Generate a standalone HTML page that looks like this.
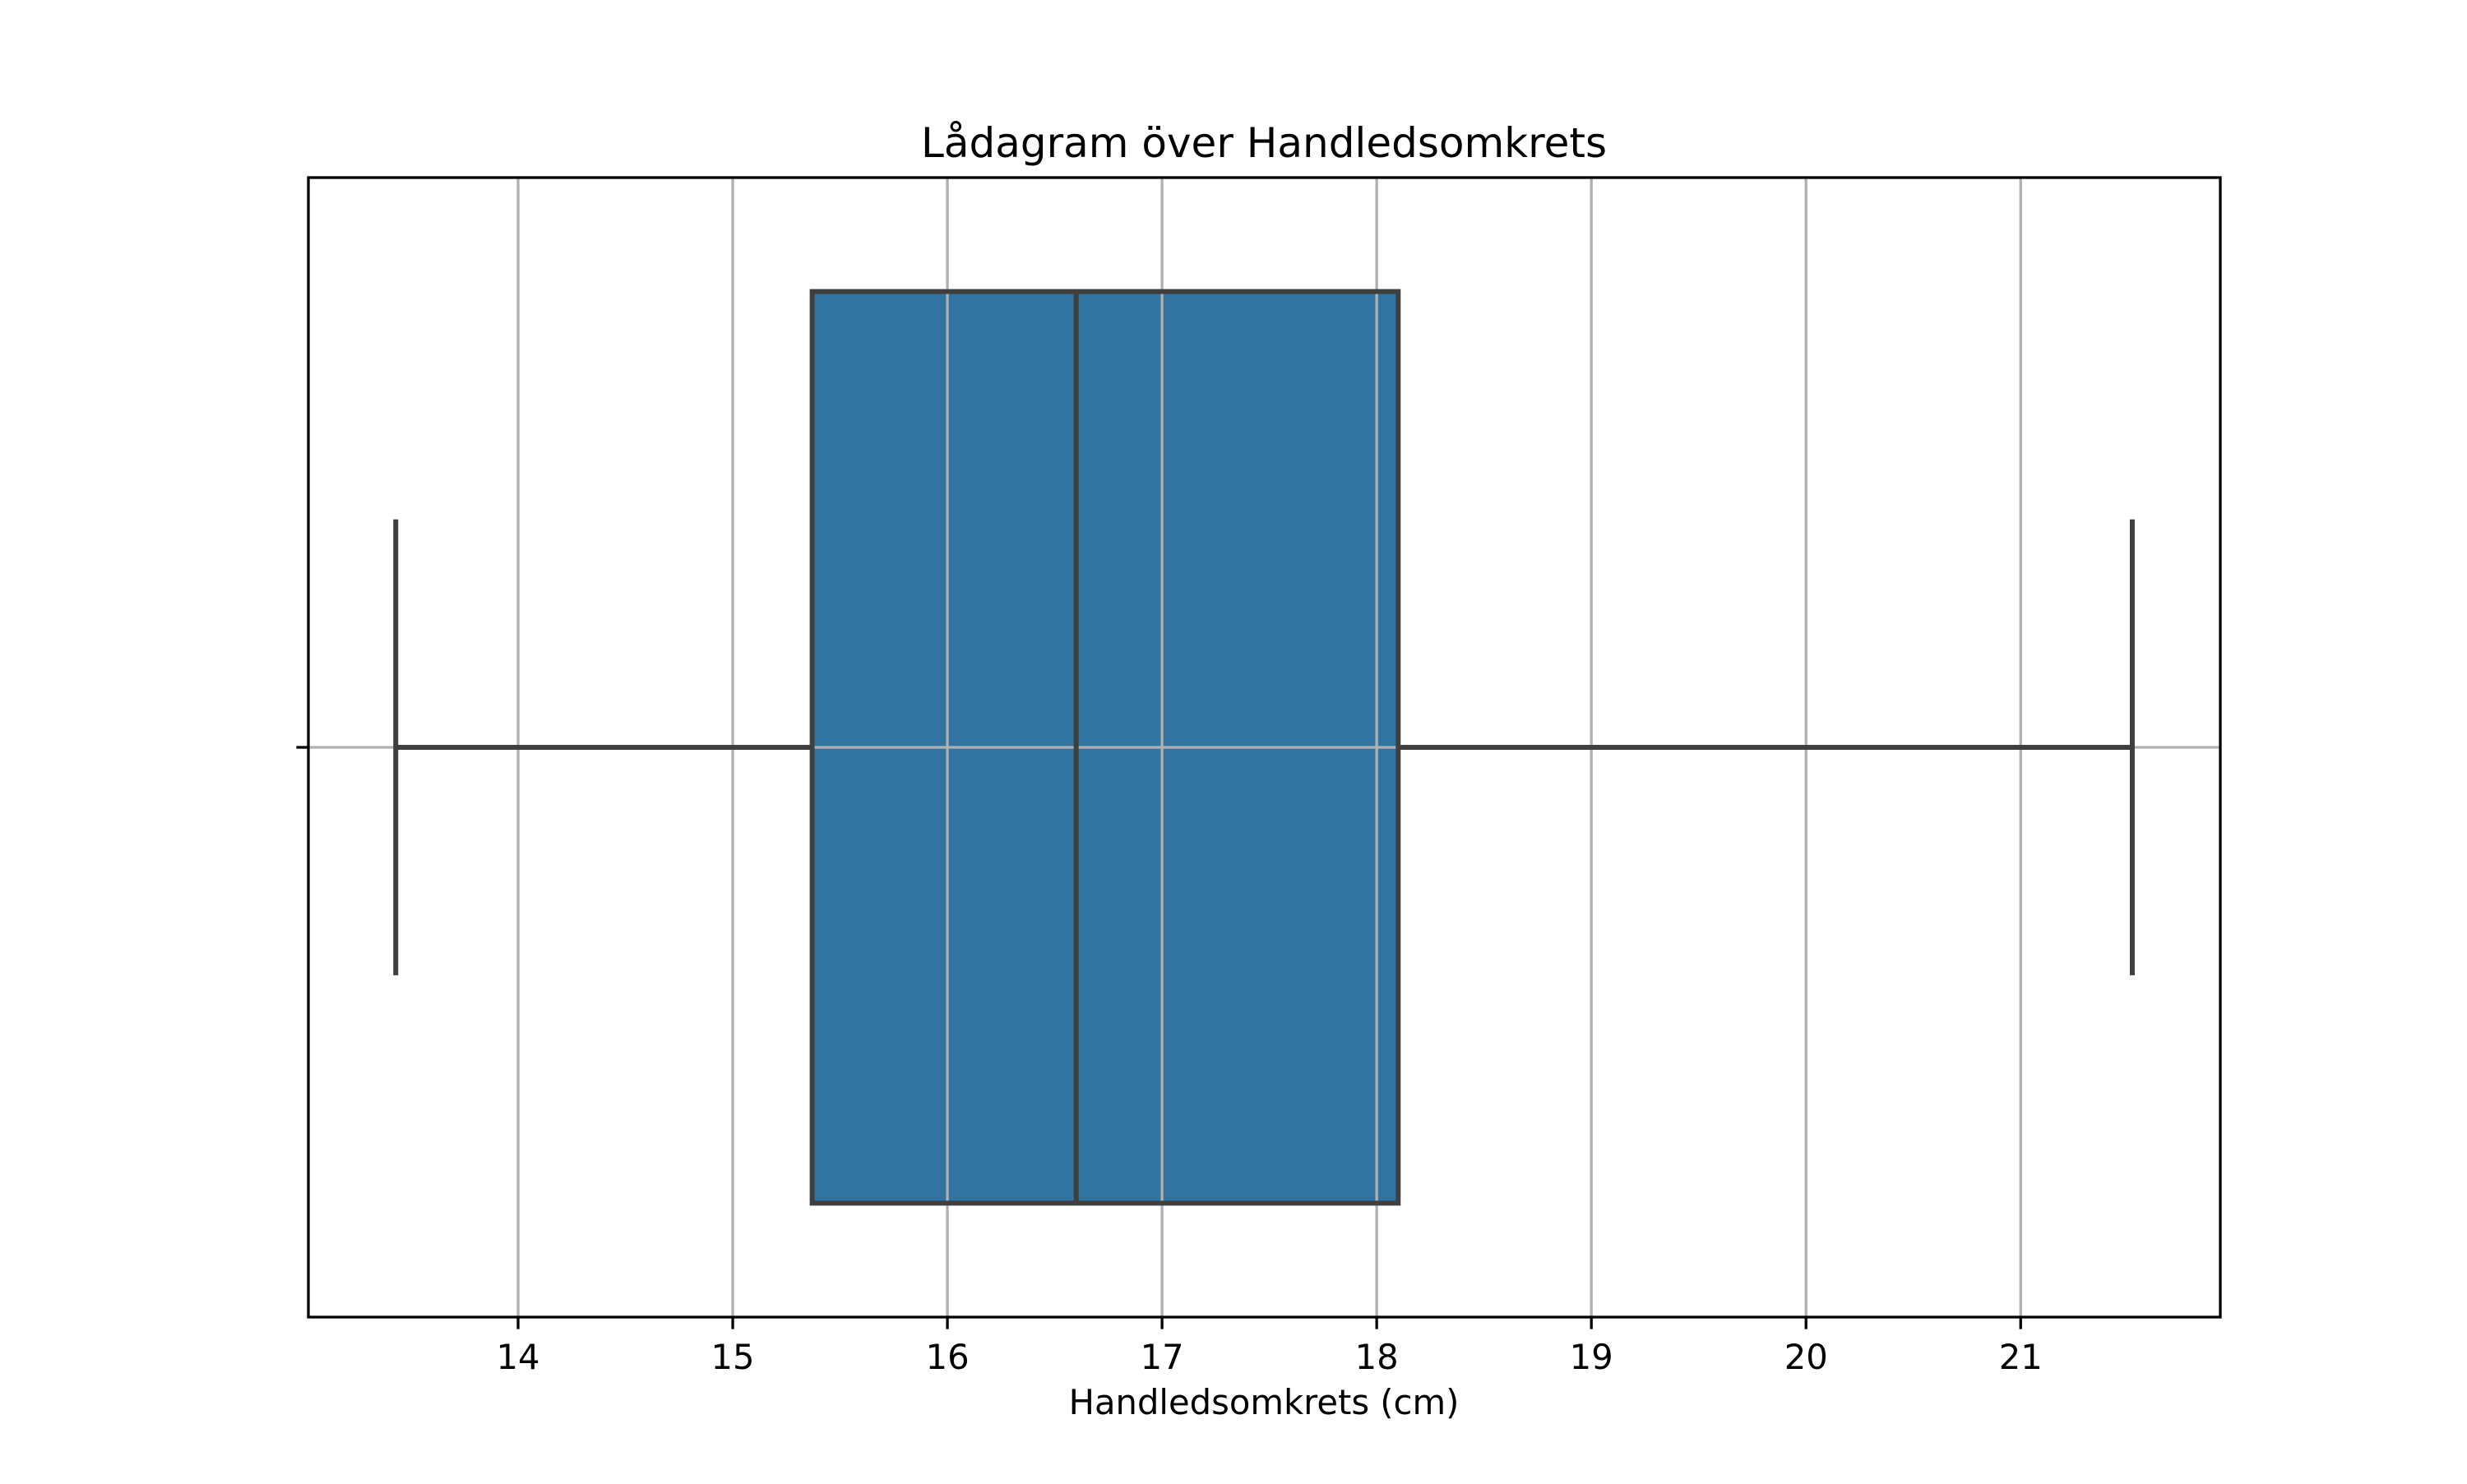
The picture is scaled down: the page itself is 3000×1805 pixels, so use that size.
<!DOCTYPE html>
<html><head><meta charset="utf-8"><style>
html,body{margin:0;padding:0;background:#fff;}
svg text{font-family:"DejaVu Sans","Liberation Sans",sans-serif;fill:#000;}
</style></head><body>
<svg id="chart" width="3000" height="1800" viewBox="0 0 3000 1800" xmlns="http://www.w3.org/2000/svg">
<rect width="3000" height="1800" fill="#fff"/>
<g id="grid"></g>
<g id="marks"></g>
<rect x="375" y="216" width="2325" height="1386" fill="none" stroke="#000" stroke-width="3.3"/>
<g id="ticks"></g>
<text x="1537" y="191" font-size="50" text-anchor="middle">Lådagram över Handledsomkrets</text>
<text x="1537" y="1720" font-size="41.7" text-anchor="middle">Handledsomkrets (cm)</text>
</svg>
<script>
const tickValues = [14,15,16,17,18,19,20,21];
const tickLabels = ["14","15","16","17","18","19","20","21"];
const whiskerLow = [13.43];
const quartile1 = [15.37];
const medianVal = [16.6];
const quartile3 = [18.1];
const whiskerHigh = [21.52];

const L=375,R=2700,T=216,B=1602;
const xMin=13.023,xMax=21.93;
function xs(v){return L+(v-xMin)/(xMax-xMin)*(R-L);}
function ys(v){return T+(v+0.5)*(B-T);}
const NS="http://www.w3.org/2000/svg";
function mk(tag,attrs,parent){const e=document.createElementNS(NS,tag);for(const k in attrs)e.setAttribute(k,attrs[k]);parent.appendChild(e);return e;}
const grid=document.getElementById('grid'),ticks=document.getElementById('ticks'),marks=document.getElementById('marks');
tickValues.forEach((v,i)=>{
  const g=mk('line',{x1:xs(v),x2:xs(v),y1:T,y2:B,stroke:'#b0b0b0','stroke-width':3.3},grid);
  
  
  const t=mk('line',{x1:xs(v),x2:xs(v),y1:B,y2:B+14.6,stroke:'#000','stroke-width':3.3},ticks);
  
  
  const l=mk('text',{x:xs(v),y:B+63,'font-size':41.7,'text-anchor':'middle'},ticks);
  l.textContent=tickLabels[i];
  
  
});
const hg=mk('line',{x1:L,x2:R,y1:ys(0),y2:ys(0),stroke:'#b0b0b0','stroke-width':3.3},grid);


const yt=mk('line',{x1:L-14.6,x2:L,y1:ys(0),y2:ys(0),stroke:'#000','stroke-width':3.3},ticks);


const c='#3f3f3f',sw=6;
const w1=mk('line',{x1:xs(whiskerLow[0]),x2:xs(quartile1[0]),y1:ys(0),y2:ys(0),stroke:c,'stroke-width':sw},marks);


const w2=mk('line',{x1:xs(quartile3[0]),x2:xs(whiskerHigh[0]),y1:ys(0),y2:ys(0),stroke:c,'stroke-width':sw},marks);


const c1=mk('line',{x1:xs(whiskerLow[0]),x2:xs(whiskerLow[0]),y1:ys(-0.2),y2:ys(0.2),stroke:c,'stroke-width':sw},marks);


const c2=mk('line',{x1:xs(whiskerHigh[0]),x2:xs(whiskerHigh[0]),y1:ys(-0.2),y2:ys(0.2),stroke:c,'stroke-width':sw},marks);


const bx=mk('rect',{x:xs(quartile1[0]),y:ys(-0.4),width:xs(quartile3[0])-xs(quartile1[0]),height:ys(0.4)-ys(-0.4),fill:'#3274a1',stroke:c,'stroke-width':sw},marks);


tickValues.forEach(v=>{
  if(v>quartile1[0]&&v<quartile3[0]){
    const g=mk('line',{x1:xs(v),x2:xs(v),y1:ys(-0.4)+3,y2:ys(0.4)-3,stroke:'#b0b0b0','stroke-width':3.3},marks);
    
    
  }
});
const hg2=mk('line',{x1:xs(quartile1[0])+3,x2:xs(quartile3[0])-3,y1:ys(0),y2:ys(0),stroke:'#b0b0b0','stroke-width':3.3},marks);


const md=mk('line',{x1:xs(medianVal[0]),x2:xs(medianVal[0]),y1:ys(-0.4),y2:ys(0.4),stroke:c,'stroke-width':sw},marks);


</script>
</body></html>
